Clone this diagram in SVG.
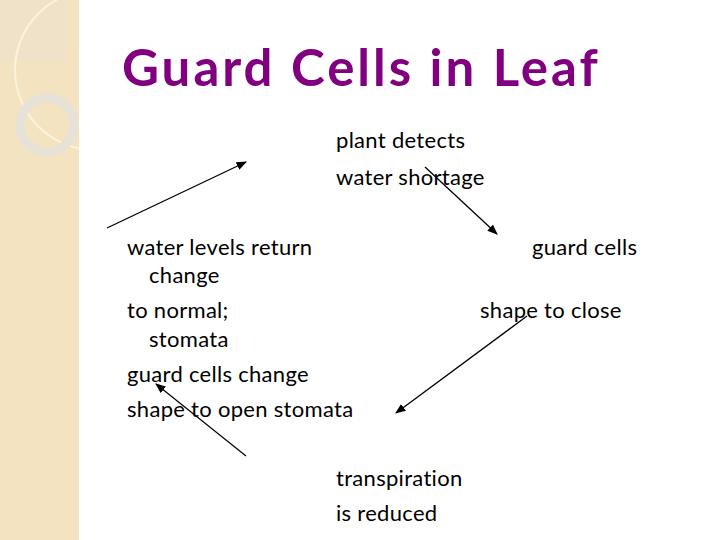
<svg xmlns="http://www.w3.org/2000/svg" width="720" height="540" viewBox="0 0 720 540">
<style>
.t{font-family:Lato,"Open Sans",sans-serif;font-size:22px;fill:#000;letter-spacing:0.3px}
.c{stroke:#000;stroke-width:1.3;fill:none;marker-end:url(#a)}
</style>
<defs><marker id="a" viewBox="0 0 10 10" refX="9" refY="5" markerWidth="8" markerHeight="8" orient="auto"><path d="M0,1 L10,5 L0,9 z" fill="#000"/></marker>
<clipPath id="s"><rect x="0" y="0" width="79" height="540"/></clipPath></defs>
<rect width="720" height="540" fill="#fff"/>
<g id="decor" clip-path="url(#s)">
<rect x="0" y="0" width="79" height="540" fill="#f3e3c0"/>
<rect x="0" y="0" width="66" height="62" fill="#efe2c8"/>
<circle cx="95" cy="70" r="80" fill="none" stroke="#fbf3dc" stroke-width="2"/>
<circle cx="47" cy="125" r="27" fill="none" stroke="#e6e2d8" stroke-width="9"/>
</g>
<text x="122" y="86" font-family="Lato,'Open Sans',sans-serif" font-weight="bold" font-size="51" fill="#800080" letter-spacing="3">Guard Cells in Leaf</text>
<g id="n1"><text class="t" x="336" y="148">plant detects</text><text class="t" x="336" y="185">water shortage</text></g>
<g id="n2"><text class="t" x="532" y="255">guard cells</text><text class="t" x="480" y="318">shape to close</text></g>
<g id="n3"><text class="t" x="336" y="486">transpiration</text><text class="t" x="336" y="521">is reduced</text></g>
<g id="n4"><text class="t" x="127" y="255">water levels return</text><text class="t" x="149" y="283">change</text><text class="t" x="127" y="318">to normal;</text><text class="t" x="149" y="347">stomata</text><text class="t" x="127" y="382">guard cells change</text><text class="t" x="127" y="417">shape to open stomata</text></g>
<g id="connectors">
<line class="c" x1="107" y1="228" x2="246" y2="162"/>
<line class="c" x1="425" y1="167" x2="497" y2="234"/>
<line class="c" x1="527" y1="316" x2="396" y2="413"/>
<line class="c" x1="246" y1="456" x2="156" y2="384"/>
</g>
</svg>
